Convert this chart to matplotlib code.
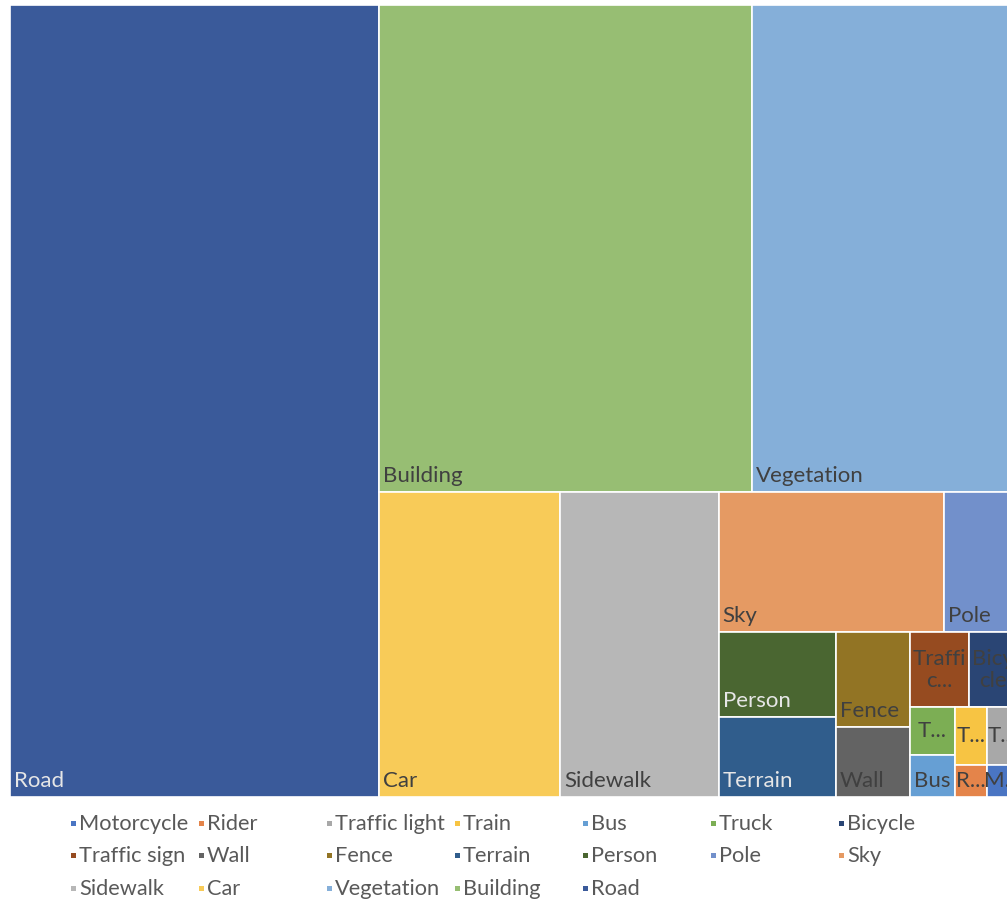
import matplotlib
matplotlib.use("Agg")
import matplotlib.pyplot as plt
from matplotlib.patches import Rectangle
from matplotlib.font_manager import FontProperties

# Share of labelled pixels per class (%), listed in ascending order
categories = ["Motorcycle", "Rider", "Traffic light", "Train", "Bus", "Truck",
              "Bicycle", "Traffic sign", "Wall", "Fence", "Terrain", "Person",
              "Pole", "Sky", "Sidewalk", "Car", "Vegetation", "Building", "Road"]
shares = [0.125, 0.13, 0.225, 0.23, 0.235, 0.27,
          0.46, 0.55, 0.65, 0.88, 1.17, 1.24,
          1.30, 3.96, 6.05, 6.9, 16.2, 22.7, 36.6]
colors = ["#4A75C3", "#E4844A", "#A8A8A8", "#F7C443", "#669FD4", "#7CAE54",
          "#2A4574", "#964B20", "#636363", "#927424", "#305D8C", "#4A6631",
          "#7290CB", "#E59A63", "#B7B7B7", "#F8CB58", "#85AFD9", "#97BE73",
          "#3A5A9A"]

# how many tiles go into each strip of the layout
strip_sizes = [1, 2, 1, 1, 2, 2, 2, 2, 2, 2, 1, 1]
light_labels = {"Road", "Person", "Terrain"}

W, H = 1008.0, 792.0
fig = plt.figure(figsize=(10.07, 9.0), dpi=100)
ax = fig.add_axes([10 / 1007, 1 - 797 / 900, W / 1007, H / 900])
ax.set_xlim(0, W)
ax.set_ylim(H, 0)
ax.axis("off")

order = sorted(range(len(categories)), key=lambda i: -shares[i])
total = sum(shares)
areas = [shares[i] / total * W * H for i in order]


def layout(areas, sizes, x, y, w, h):
    rects = []
    k = 0
    for n in sizes:
        chunk = areas[k:k + n]
        k += n
        s = sum(chunk)
        if w >= h:
            cw = s / h
            yy = y
            for a in chunk:
                rh = a / cw
                rects.append((x, yy, cw, rh))
                yy += rh
            x += cw
            w -= cw
        else:
            rh = s / w
            xx = x
            for a in chunk:
                cw = a / rh
                rects.append((xx, y, cw, rh))
                xx += cw
            y += rh
            h -= rh
    return rects


rects = layout(areas, strip_sizes, 0, 0, W, H)

font = FontProperties(family="Lato", size=16)
renderer = fig.canvas.get_renderer()


def text_w(s):
    return renderer.get_text_width_height_descent(s, font, ismath=False)[0]


def fit_label(name, w, h, line_h=27):
    if text_w(name) <= w - 6:
        return [name], False
    wrap_avail = w - 2
    end_avail = w - 12
    nlines = max(1, int((h - 4) // line_h))
    lines = []
    rest = name
    for i in range(nlines):
        if i == nlines - 1:
            if text_w(rest) <= end_avail:
                lines.append(rest)
                break
            k = 1
            while k < len(rest) and text_w(rest[:k + 1] + "...") <= end_avail:
                k += 1
            cut = rest[:k]
            if " " in cut:
                cut = cut[:cut.index(" ")]
            lines.append(cut.rstrip() + "...")
        else:
            if text_w(rest) <= wrap_avail:
                lines.append(rest)
                break
            k = 1
            while k < len(rest) and text_w(rest[:k + 1]) <= wrap_avail:
                k += 1
            lines.append(rest[:k])
            rest = rest[k:].lstrip()
    return lines, True


for idx, (x, y, w, h) in zip(order, rects):
    name = categories[idx]
    ax.add_patch(Rectangle((x, y), w, h, facecolor=colors[idx],
                           edgecolor="white", linewidth=1.2))
    tc = "#E6E6E6" if name in light_labels else "#404040"
    lines, centered = fit_label(name, w, h)
    if centered:
        ax.text(x + w / 2, y + h / 2, "\n".join(lines), ha="center", va="center",
                color=tc, fontproperties=font, linespacing=1.1)
    else:
        ax.text(x + 4, y + h - 10, name, ha="left", va="baseline",
                color=tc, fontproperties=font)

# legend laid out row by row, seven entries per row
leg_font = FontProperties(family="Lato", size=15.7)
for i, name in enumerate(categories):
    col, row = i % 7, i // 7
    px = 73 + 128 * col
    py = 823 + 32.5 * row
    fig.add_artist(Rectangle(((px - 2.5) / 1007, 1 - (py + 2.5) / 900),
                             5 / 1007, 5 / 900, transform=fig.transFigure,
                             facecolor=colors[i], edgecolor="none"))
    fig.text((px + 6) / 1007, 1 - (py + 1) / 900, name, ha="left", va="center",
             color="#595959", fontproperties=leg_font)

fig.savefig("out.png", dpi=100)
